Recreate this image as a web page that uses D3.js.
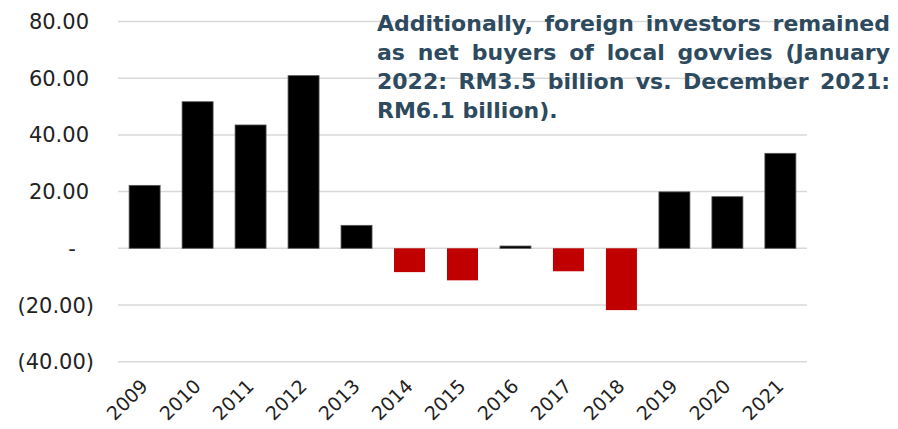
<!DOCTYPE html>
<html>
<head>
<meta charset="utf-8">
<script src="https://cdn.jsdelivr.net/npm/d3@7"></script>
<style>
  html, body { margin: 0; padding: 0; background: #fff; }
  svg { display: block; }
</style>
</head>
<body>
<div id="chart"></div>
<script>
// data (RM billion, net foreign flows into govvies)
var years = ["2009", "2010", "2011", "2012", "2013", "2014", "2015", "2016", "2017", "2018", "2019", "2020", "2021"];
var flows = [22.2, 51.7, 43.5, 60.9, 8.1, -8.4, -11.3, 0.8, -8.1, -21.8, 19.9, 18.2, 33.5];
var yTicks = [-40, -20, 0, 20, 40, 60, 80];
var noteLines = [
    "Additionally, foreign investors remained",
    "as net buyers of local govvies (January",
    "2022: RM3.5 billion vs. December 2021:",
    "RM6.1 billion)."
];

var w = 898, h = 429;
var plotLeft = 118, plotRight = 807, plotTop = 21.5, plotBottom = 361.7;

var svg = d3.select("#chart").append("svg")
    .attr("width", w)
    .attr("height", h);

var x = d3.scaleBand()
    .domain(years)
    .range([plotLeft, plotRight])
    .paddingInner(0.415)
    .paddingOuter(0.21);

var y = d3.scaleLinear()
    .domain([-40, 80])
    .range([plotBottom, plotTop]);

// gridlines
svg.append("g")
    .selectAll("line")
    .data(yTicks)
    .enter().append("line")
    .attr("x1", plotLeft)
    .attr("x2", plotRight)
    .attr("y1", function (d) { return y(d); })
    .attr("y2", function (d) { return y(d); })
    .attr("stroke", "#d9d9d9")
    .attr("stroke-width", 1.5);

// y labels, accounting style
function fmt(d) {
    if (d === 0) return "-";
    if (d < 0) return "(" + d3.format(".2f")(-d) + ")";
    return d3.format(".2f")(d);
}
svg.append("g")
    .selectAll("text")
    .data(yTicks)
    .enter().append("text")
    .attr("x", function (d) { return d === 0 ? 72 : (d < 0 ? 94 : 89); })
    .attr("y", function (d) { return y(d); })
    .attr("dy", "0.36em")
    .attr("text-anchor", function (d) { return d === 0 ? "middle" : "end"; })
    .attr("font-family", "DejaVu Sans, sans-serif")
    .attr("font-size", 21)
    .attr("fill", "#222")
    .text(fmt);

// bars
svg.append("g")
    .selectAll("rect")
    .data(flows)
    .enter().append("rect")
    .attr("x", function (d, i) { return x(years[i]); })
    .attr("width", x.bandwidth())
    .attr("y", function (d) { return y(Math.max(0, d)); })
    .attr("height", function (d) { return Math.abs(y(d) - y(0)); })
    .attr("fill", function (d) { return d < 0 ? "#c00000" : "#000"; })
    .attr("stroke", function (d) { return d < 0 ? "none" : "#555"; })
    .attr("stroke-width", 0.8);

// x labels rotated
svg.append("g")
    .selectAll("text")
    .data(years)
    .enter().append("text")
    .attr("transform", function (d) {
        return "translate(" + (x(d) + x.bandwidth() / 2 - 5) + "," + 378 + ") rotate(-45)";
    })
    .attr("text-anchor", "end")
    .attr("dy", "0.7em")
    .attr("font-family", "DejaVu Sans, sans-serif")
    .attr("font-size", 19)
    .attr("fill", "#222")
    .text(function (d) { return d; });

// note text, justified
var noteLeft = 377, noteRight = 890, noteSize = 22;
var note = svg.append("g")
    .attr("font-family", "DejaVu Sans, sans-serif")
    .attr("font-weight", "bold")
    .attr("font-size", noteSize)
    .attr("fill", "#2d4a5e");

noteLines.forEach(function (line, li) {
    var words = line.split(" ");
    var by = 31 + li * 29;
    var nodes = words.map(function (wd) {
        return note.append("text").attr("y", by).text(wd);
    });
    var widths = nodes.map(function (n) { return n.node().getComputedTextLength(); });
    var total = d3.sum(widths);
    var last = li === noteLines.length - 1;
    var gap = last ? noteSize * 0.35 : (noteRight - noteLeft - total) / (words.length - 1);
    var cx = noteLeft;
    nodes.forEach(function (n, i) {
        n.attr("x", cx);
        cx += widths[i] + gap;
    });
});
</script>
</body>
</html>
